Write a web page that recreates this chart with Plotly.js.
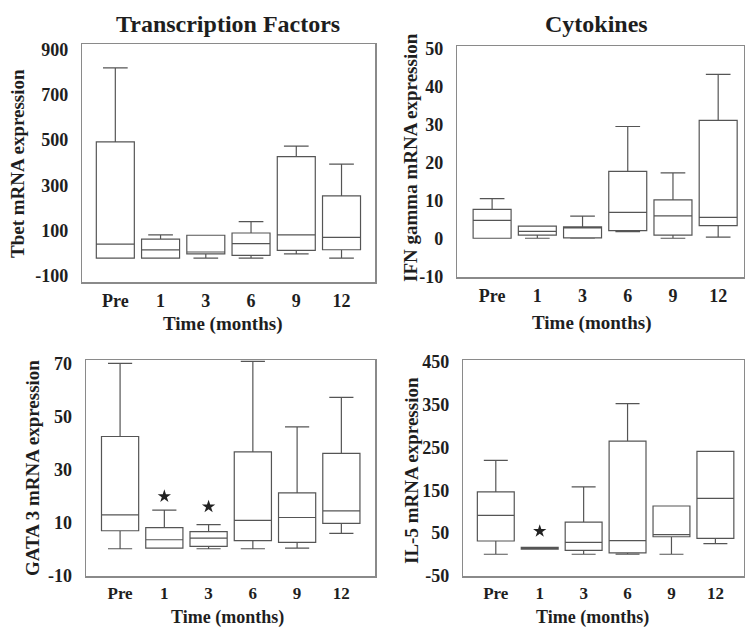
<!DOCTYPE html>
<html>
<head>
<meta charset="utf-8">
<script src="https://cdn.plot.ly/plotly-3.0.1.min.js"></script>
<style>html,body{margin:0;padding:0;background:#fff;}#chart{width:745px;height:629px;}</style>
</head>
<body>
<div id="chart"></div>
<script>
// ---- data ----
var categories = ['Pre', '1', '3', '6', '9', '12'];

// Tbet mRNA expression
var tbetMin    = [-22, -22, -22, -22, -3, -22];
var tbetQ1     = [-22, -22, -3, -10, 12, 15];
var tbetMedian = [40, 14, 5, 42, 81, 70];
var tbetQ3     = [492, 62, 79, 89, 427, 253];
var tbetMax    = [819, 81, 79, 139, 473, 394];

// IFN gamma mRNA expression
var ifnMin    = [0, 0, 0, 1.7, 0, 0.3];
var ifnQ1     = [0, 0.8, 0.1, 2.0, 0.8, 3.3];
var ifnMedian = [4.7, 1.8, 2.7, 6.8, 5.9, 5.5];
var ifnQ3     = [7.6, 3.2, 3.0, 17.6, 10.1, 31.0];
var ifnMax    = [10.4, 3.2, 5.8, 29.4, 17.2, 43.1];

// GATA 3 mRNA expression
var gataMin    = [0, 0.2, 0, 0, 0.2, 5.8];
var gataQ1     = [6.8, 0.2, 0.9, 3.1, 2.4, 9.6];
var gataMedian = [12.8, 3.4, 4.0, 10.7, 11.8, 14.3];
var gataQ3     = [42.4, 8.0, 6.5, 36.6, 21.1, 36.0];
var gataMax    = [70.0, 14.6, 9.1, 70.8, 46.0, 57.2];
var gataStarX  = ['1', '3'];
var gataStarY  = [19.8, 15.9];

// IL-5 mRNA expression
var il5Min    = [0, 12, 0, 0, 0, 25];
var il5Q1     = [31, 12, 9, 3, 41, 37];
var il5Median = [91, 14, 28, 32, 46, 131];
var il5Q3     = [146, 16, 75, 265, 113, 241];
var il5Max    = [220, 16, 158, 353, 113, 241];
var il5StarX  = ['1'];
var il5StarY  = [54];

// tick labels
var tbetTicks = [-100, 100, 300, 500, 700, 900];
var ifnTicks  = [-10, 0, 10, 20, 30, 40, 50];
var gataTicks = [-10, 10, 30, 50, 70];
var il5Ticks  = [-50, 50, 150, 250, 350, 450];

// ---- styling ----
var W = 745, H = 629;
var FONT = 'Liberation Serif, Times New Roman, serif';
var TXT = '#1e1e1e';
var BOXLINE = '#555555';

function fx(px) { return px / W; }
function fy(px) { return 1 - px / H; }

function boxTrace(q1, med, q3, lo, hi, xa, ya) {
  return {
    type: 'box', x: categories, q1: q1, median: med, q3: q3,
    lowerfence: lo, upperfence: hi,
    xaxis: xa, yaxis: ya, width: 0.84, whiskerwidth: 0.65,
    line: {color: BOXLINE, width: 1.2}, fillcolor: 'rgba(0,0,0,0)',
    boxpoints: false, showlegend: false, hoverinfo: 'skip'
  };
}
function starTrace(xs, ys, xa, ya) {
  return {
    type: 'scatter', mode: 'markers', x: xs, y: ys, xaxis: xa, yaxis: ya,
    marker: {symbol: 'star', size: 10, color: '#222'},
    showlegend: false, hoverinfo: 'skip'
  };
}

var data = [
  boxTrace(tbetQ1, tbetMedian, tbetQ3, tbetMin, tbetMax, 'x', 'y'),
  boxTrace(ifnQ1, ifnMedian, ifnQ3, ifnMin, ifnMax, 'x2', 'y2'),
  boxTrace(gataQ1, gataMedian, gataQ3, gataMin, gataMax, 'x3', 'y3'),
  boxTrace(il5Q1, il5Median, il5Q3, il5Min, il5Max, 'x4', 'y4'),
  starTrace(gataStarX, gataStarY, 'x3', 'y3'),
  starTrace(il5StarX, il5StarY, 'x4', 'y4')
];

function xAxis(d0, d1, anchor, r, fs, so) {
  return {
    domain: [fx(d0), fx(d1)], anchor: anchor, type: 'category',
    categoryorder: 'array', categoryarray: categories,
    range: r, showgrid: false, zeroline: false, ticks: '',
    showline: true, mirror: true, linecolor: '#8a8a8a', linewidth: 1.5,
    tickfont: {family: FONT, size: fs, color: TXT, weight: 'bold'},
    ticklabelstandoff: so, fixedrange: true
  };
}
function yAxis(t0, t1, anchor, r, tv) {
  return {
    domain: [fy(t1), fy(t0)], anchor: anchor, range: r,
    tickmode: 'array', tickvals: tv, ticktext: tv.map(String),
    showgrid: false, zeroline: false, ticks: '',
    showline: true, mirror: true, linecolor: '#8a8a8a', linewidth: 1.5,
    tickfont: {family: FONT, size: 18, color: TXT, weight: 'bold'},
    ticklabelstandoff: 9, fixedrange: true
  };
}

function ann(text, x, y, size, angle) {
  return {
    text: text, xref: 'paper', yref: 'paper', x: fx(x), y: fy(y),
    xanchor: 'center', yanchor: 'middle', showarrow: false,
    textangle: angle || 0,
    font: {family: FONT, size: size, color: TXT, weight: 'bold'}
  };
}

var layout = {
  width: W, height: H,
  margin: {l: 0, r: 0, t: 0, b: 0},
  paper_bgcolor: '#ffffff', plot_bgcolor: '#ffffff',
  showlegend: false,
  xaxis:  xAxis(82.3, 375, 'y',  [-0.73, 5.74], 18, 2),
  yaxis:  yAxis(44, 282.3, 'x',  [-129, 925], tbetTicks),
  xaxis2: xAxis(457.3, 743.5, 'y2', [-0.77, 5.56], 18, 2),
  yaxis2: yAxis(46.3, 277, 'x2', [-10.2, 50.5], ifnTicks),
  xaxis3: xAxis(86, 375, 'y3', [-0.77, 5.76], 17, 1),
  yaxis3: yAxis(360, 576, 'x3', [-10.3, 71.3], gataTicks),
  xaxis4: xAxis(463.3, 743.5, 'y4', [-0.74, 5.64], 17, 1),
  yaxis4: yAxis(360, 576, 'x4', [-51, 455], il5Ticks),
  annotations: [
    ann('Transcription Factors', 228, 24, 24),
    ann('Cytokines', 596, 24, 24),
    ann('Tbet mRNA expression', 17, 164, 19, -90),
    ann('IFN gamma mRNA expression', 411, 157, 19, -90),
    ann('GATA 3 mRNA expression', 32, 468, 19, -90),
    ann('IL-5 mRNA expression', 411, 470, 19, -90),
    ann('Time (months)', 222, 324, 19),
    ann('Time (months)', 591, 323, 19),
    ann('Time (months)', 227, 617, 18),
    ann('Time (months)', 592, 617, 18)
  ]
};

Plotly.newPlot('chart', data, layout, {displayModeBar: false, staticPlot: true});
</script>
</body>
</html>
